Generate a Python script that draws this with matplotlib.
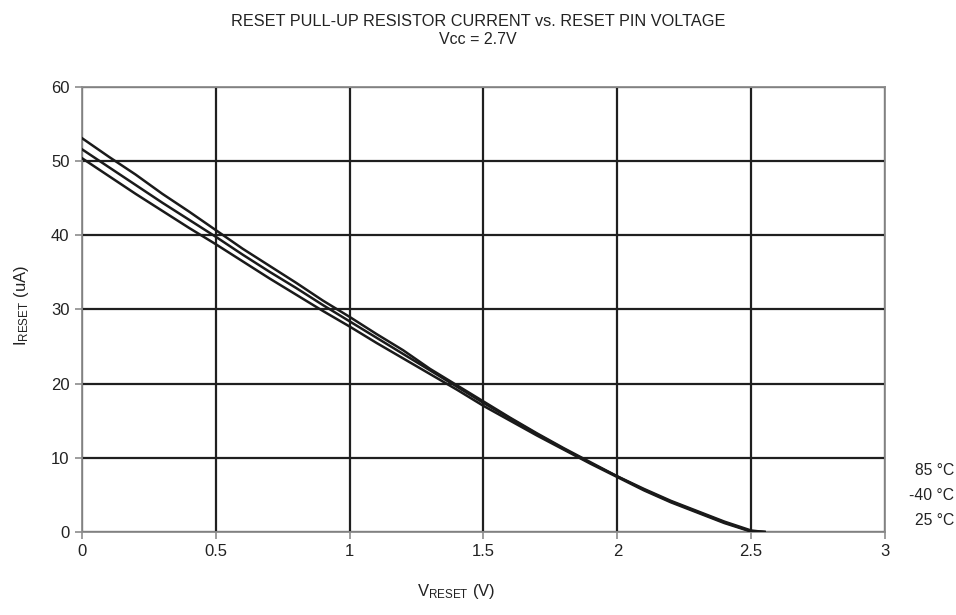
import numpy as np
import matplotlib
matplotlib.use("Agg")
import matplotlib.pyplot as plt

plt.rcParams["font.family"] = ["Liberation Sans", "DejaVu Sans"]
plt.rcParams["mathtext.fontset"] = "custom"
plt.rcParams["mathtext.rm"] = "Liberation Sans"
plt.rcParams["mathtext.it"] = "Liberation Sans"

# ── data ────────────────────────────────────────────────────────────────────
v_reset = [0.0, 0.1, 0.2, 0.3, 0.4, 0.5, 0.6, 0.7, 0.8, 0.9, 1.0, 1.1, 1.2,
           1.3, 1.4, 1.5, 1.6, 1.7, 1.8, 1.9, 2.0, 2.1, 2.2, 2.3, 2.4, 2.5, 2.55]
i_85 = [53.1, 50.6, 48.2, 45.6, 43.2, 40.7, 38.2, 35.9, 33.6, 31.2, 29.0, 26.7,
        24.5, 22.0, 19.8, 17.6, 15.4, 13.3, 11.3, 9.4, 7.5, 5.8, 4.2, 2.8, 1.4,
        0.2, 0.0]
i_m40 = [51.6, 49.2, 46.8, 44.4, 42.1, 39.8, 37.4, 35.1, 32.9, 30.6, 28.4, 26.2,
         24.0, 21.8, 19.6, 17.4, 15.3, 13.2, 11.2, 9.3, 7.5, 5.7, 4.1, 2.7, 1.3,
         0.1, 0.0]
i_25 = [50.4, 48.0, 45.6, 43.3, 41.0, 38.8, 36.5, 34.2, 32.0, 29.8, 27.7, 25.5,
        23.4, 21.3, 19.2, 17.0, 15.0, 13.0, 11.1, 9.2, 7.4, 5.6, 4.0, 2.6, 1.2,
        0.05, 0.0]
series = [("85 °C", i_85), ("-40 °C", i_m40), ("25 °C", i_25)]

x_ticks = [0, 0.5, 1, 1.5, 2, 2.5, 3]
x_labels = ["0", "0.5", "1", "1.5", "2", "2.5", "3"]
y_ticks = [0, 10, 20, 30, 40, 50, 60]

# ── figure ──────────────────────────────────────────────────────────────────
fig = plt.figure(figsize=(9.56, 6.15), dpi=100)
ax = fig.add_axes([0.0858, 0.135, 0.8399, 0.7235])

for name, vals in series:
    ax.plot(v_reset, vals, color="#1a1a1a", lw=1.8, zorder=3)

ax.set_xlim(0, 3)
ax.set_ylim(0, 60)
ax.set_xticks(x_ticks)
ax.set_xticklabels(x_labels)
ax.set_yticks(y_ticks)
ax.grid(True, color="#1f1f1f", lw=1.6)
ax.set_axisbelow(True)
for sp in ax.spines.values():
    sp.set_edgecolor("#8c8c8c")
    sp.set_linewidth(1.3)
ax.tick_params(axis="both", labelsize=12, colors="#8c8c8c", labelcolor="#222",
               length=5, width=1.2, pad=4)

ax.set_xlabel(r"V$_{\mathrm{RESET}}$ (V)", fontsize=12, color="#222")
ax.xaxis.set_label_coords(0.466, -0.112)
ax.set_ylabel(r"I$_{\mathrm{RESET}}$ (uA)", fontsize=12, color="#222")
ax.yaxis.set_label_coords(-0.064, 0.51)

fig.text(0.5, 0.965, "RESET PULL-UP RESISTOR CURRENT vs. RESET PIN VOLTAGE",
         ha="center", va="center", fontsize=11.7, color="#222")
fig.text(0.5, 0.935, "Vcc = 2.7V", ha="center", va="center", fontsize=11.5,
         color="#222")

# temperature labels at right
for k, (name, _) in enumerate(series):
    fig.text(0.998, 0.235 - k * 0.041, name, ha="right", va="center",
             fontsize=11.3, color="#222")

fig.savefig("out.png", dpi=100)
